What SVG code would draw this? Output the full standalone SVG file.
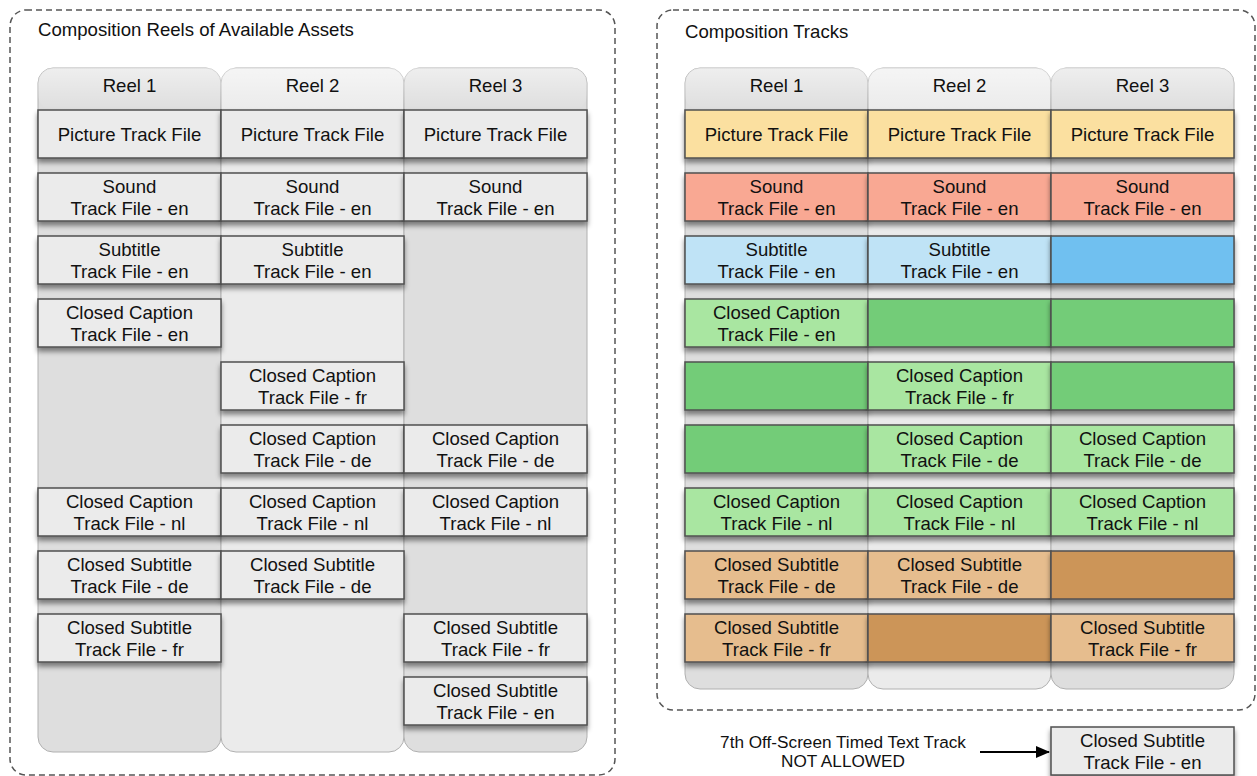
<svg xmlns="http://www.w3.org/2000/svg" width="1257" height="776" viewBox="0 0 1257 776">
<defs>
<filter id="sh" x="-10%" y="-20%" width="120%" height="160%"><feDropShadow dx="0" dy="4" stdDeviation="2.5" flood-color="#000" flood-opacity="0.45"/></filter>
<linearGradient id="hdr" x1="0" y1="0" x2="0" y2="1"><stop offset="0" stop-color="#fff" stop-opacity="0.5"/><stop offset="1" stop-color="#fff" stop-opacity="0"/></linearGradient>
<marker id="ah" markerWidth="14" markerHeight="12" refX="13" refY="6" orient="auto" markerUnits="userSpaceOnUse"><path d="M0,0 L14,6 L0,12 Z" fill="#000"/></marker>
</defs>
<style>
text{font-family:"Liberation Sans",Arial,sans-serif;font-size:18.6px;fill:#111;text-anchor:middle}
.title{text-anchor:start}
.panel{fill:#fff;stroke:#555;stroke-width:1.5;stroke-dasharray:6 4}
.colA{fill:#dedede;stroke:#b0b0b0;stroke-width:1}
.colB{fill:#ebebeb;stroke:#b0b0b0;stroke-width:1}
.hdr{fill:url(#hdr)}
.b{stroke:#505050;stroke-width:1.5;filter:url(#sh)}
.g{fill:#ebebeb}
.pic{fill:#fbe0a0}
.snd{fill:#f9a893}
.subL{fill:#bfe3f6}
.subD{fill:#6fc0f0}
.ccL{fill:#a9e6a1}
.ccD{fill:#73cc78}
.csL{fill:#e6bd8e}
.csD{fill:#cc9558}
.note{font-size:17.2px}
</style>
<g id="panel-left">
<rect class="panel" x="10" y="10" width="605" height="765" rx="16"/>
<text class="title" x="38" y="36">Composition Reels of Available Assets</text>
<rect class="colA" x="38" y="68" width="183" height="684" rx="15"/>
<rect class="colB" x="221" y="68" width="183" height="684" rx="15"/>
<rect class="colA" x="404" y="68" width="183" height="684" rx="15"/>
<rect class="hdr" x="38" y="68" width="549" height="42" rx="15"/>
<text x="129.5" y="91.5">Reel 1</text>
<text x="312.5" y="91.5">Reel 2</text>
<text x="495.5" y="91.5">Reel 3</text>
</g>
<g id="panel-right">
<rect class="panel" x="657" y="10" width="598" height="700" rx="16"/>
<text class="title" x="685" y="38">Composition Tracks</text>
<rect class="colA" x="685" y="68" width="183" height="621" rx="15"/>
<rect class="colB" x="868" y="68" width="183" height="621" rx="15"/>
<rect class="colA" x="1051" y="68" width="183" height="621" rx="15"/>
<rect class="hdr" x="685" y="68" width="549" height="42" rx="15"/>
<text x="776.5" y="91.5">Reel 1</text>
<text x="959.5" y="91.5">Reel 2</text>
<text x="1142.5" y="91.5">Reel 3</text>
</g>
<g id="left-r1-picture"><rect class="b g" x="38" y="110" width="183" height="48"/><text x="129.5" y="140.5">Picture Track File</text></g>
<g id="left-r2-picture"><rect class="b g" x="221" y="110" width="183" height="48"/><text x="312.5" y="140.5">Picture Track File</text></g>
<g id="left-r3-picture"><rect class="b g" x="404" y="110" width="183" height="48"/><text x="495.5" y="140.5">Picture Track File</text></g>
<g id="left-r1-sound"><rect class="b g" x="38" y="173" width="183" height="48"/><text x="129.5" y="192.5">Sound</text><text x="129.5" y="214.5">Track File - en</text></g>
<g id="left-r2-sound"><rect class="b g" x="221" y="173" width="183" height="48"/><text x="312.5" y="192.5">Sound</text><text x="312.5" y="214.5">Track File - en</text></g>
<g id="left-r3-sound"><rect class="b g" x="404" y="173" width="183" height="48"/><text x="495.5" y="192.5">Sound</text><text x="495.5" y="214.5">Track File - en</text></g>
<g id="left-r1-sub"><rect class="b g" x="38" y="236" width="183" height="48"/><text x="129.5" y="255.5">Subtitle</text><text x="129.5" y="277.5">Track File - en</text></g>
<g id="left-r2-sub"><rect class="b g" x="221" y="236" width="183" height="48"/><text x="312.5" y="255.5">Subtitle</text><text x="312.5" y="277.5">Track File - en</text></g>
<g id="left-r1-cc-en"><rect class="b g" x="38" y="299" width="183" height="48"/><text x="129.5" y="318.5">Closed Caption</text><text x="129.5" y="340.5">Track File - en</text></g>
<g id="left-r2-cc-fr"><rect class="b g" x="221" y="362" width="183" height="48"/><text x="312.5" y="381.5">Closed Caption</text><text x="312.5" y="403.5">Track File - fr</text></g>
<g id="left-r2-cc-de"><rect class="b g" x="221" y="425" width="183" height="48"/><text x="312.5" y="444.5">Closed Caption</text><text x="312.5" y="466.5">Track File - de</text></g>
<g id="left-r3-cc-de"><rect class="b g" x="404" y="425" width="183" height="48"/><text x="495.5" y="444.5">Closed Caption</text><text x="495.5" y="466.5">Track File - de</text></g>
<g id="left-r1-cc-nl"><rect class="b g" x="38" y="488" width="183" height="48"/><text x="129.5" y="507.5">Closed Caption</text><text x="129.5" y="529.5">Track File - nl</text></g>
<g id="left-r2-cc-nl"><rect class="b g" x="221" y="488" width="183" height="48"/><text x="312.5" y="507.5">Closed Caption</text><text x="312.5" y="529.5">Track File - nl</text></g>
<g id="left-r3-cc-nl"><rect class="b g" x="404" y="488" width="183" height="48"/><text x="495.5" y="507.5">Closed Caption</text><text x="495.5" y="529.5">Track File - nl</text></g>
<g id="left-r1-cs-de"><rect class="b g" x="38" y="551" width="183" height="48"/><text x="129.5" y="570.5">Closed Subtitle</text><text x="129.5" y="592.5">Track File - de</text></g>
<g id="left-r2-cs-de"><rect class="b g" x="221" y="551" width="183" height="48"/><text x="312.5" y="570.5">Closed Subtitle</text><text x="312.5" y="592.5">Track File - de</text></g>
<g id="left-r1-cs-fr"><rect class="b g" x="38" y="614" width="183" height="48"/><text x="129.5" y="633.5">Closed Subtitle</text><text x="129.5" y="655.5">Track File - fr</text></g>
<g id="left-r3-cs-fr"><rect class="b g" x="404" y="614" width="183" height="48"/><text x="495.5" y="633.5">Closed Subtitle</text><text x="495.5" y="655.5">Track File - fr</text></g>
<g id="left-r3-cs-en"><rect class="b g" x="404" y="677" width="183" height="48"/><text x="495.5" y="696.5">Closed Subtitle</text><text x="495.5" y="718.5">Track File - en</text></g>
<g id="right-r1-picture"><rect class="b pic" x="685" y="110" width="183" height="48"/><text x="776.5" y="140.5">Picture Track File</text></g>
<g id="right-r2-picture"><rect class="b pic" x="868" y="110" width="183" height="48"/><text x="959.5" y="140.5">Picture Track File</text></g>
<g id="right-r3-picture"><rect class="b pic" x="1051" y="110" width="183" height="48"/><text x="1142.5" y="140.5">Picture Track File</text></g>
<g id="right-r1-sound"><rect class="b snd" x="685" y="173" width="183" height="48"/><text x="776.5" y="192.5">Sound</text><text x="776.5" y="214.5">Track File - en</text></g>
<g id="right-r2-sound"><rect class="b snd" x="868" y="173" width="183" height="48"/><text x="959.5" y="192.5">Sound</text><text x="959.5" y="214.5">Track File - en</text></g>
<g id="right-r3-sound"><rect class="b snd" x="1051" y="173" width="183" height="48"/><text x="1142.5" y="192.5">Sound</text><text x="1142.5" y="214.5">Track File - en</text></g>
<g id="right-r1-sub"><rect class="b subL" x="685" y="236" width="183" height="48"/><text x="776.5" y="255.5">Subtitle</text><text x="776.5" y="277.5">Track File - en</text></g>
<g id="right-r2-sub"><rect class="b subL" x="868" y="236" width="183" height="48"/><text x="959.5" y="255.5">Subtitle</text><text x="959.5" y="277.5">Track File - en</text></g>
<g id="right-r3-sub"><rect class="b subD" x="1051" y="236" width="183" height="48"/></g>
<g id="right-r1-cc-en"><rect class="b ccL" x="685" y="299" width="183" height="48"/><text x="776.5" y="318.5">Closed Caption</text><text x="776.5" y="340.5">Track File - en</text></g>
<g id="right-r2-cc-en"><rect class="b ccD" x="868" y="299" width="183" height="48"/></g>
<g id="right-r3-cc-en"><rect class="b ccD" x="1051" y="299" width="183" height="48"/></g>
<g id="right-r1-cc-fr"><rect class="b ccD" x="685" y="362" width="183" height="48"/></g>
<g id="right-r2-cc-fr"><rect class="b ccL" x="868" y="362" width="183" height="48"/><text x="959.5" y="381.5">Closed Caption</text><text x="959.5" y="403.5">Track File - fr</text></g>
<g id="right-r3-cc-fr"><rect class="b ccD" x="1051" y="362" width="183" height="48"/></g>
<g id="right-r1-cc-de"><rect class="b ccD" x="685" y="425" width="183" height="48"/></g>
<g id="right-r2-cc-de"><rect class="b ccL" x="868" y="425" width="183" height="48"/><text x="959.5" y="444.5">Closed Caption</text><text x="959.5" y="466.5">Track File - de</text></g>
<g id="right-r3-cc-de"><rect class="b ccL" x="1051" y="425" width="183" height="48"/><text x="1142.5" y="444.5">Closed Caption</text><text x="1142.5" y="466.5">Track File - de</text></g>
<g id="right-r1-cc-nl"><rect class="b ccL" x="685" y="488" width="183" height="48"/><text x="776.5" y="507.5">Closed Caption</text><text x="776.5" y="529.5">Track File - nl</text></g>
<g id="right-r2-cc-nl"><rect class="b ccL" x="868" y="488" width="183" height="48"/><text x="959.5" y="507.5">Closed Caption</text><text x="959.5" y="529.5">Track File - nl</text></g>
<g id="right-r3-cc-nl"><rect class="b ccL" x="1051" y="488" width="183" height="48"/><text x="1142.5" y="507.5">Closed Caption</text><text x="1142.5" y="529.5">Track File - nl</text></g>
<g id="right-r1-cs-de"><rect class="b csL" x="685" y="551" width="183" height="48"/><text x="776.5" y="570.5">Closed Subtitle</text><text x="776.5" y="592.5">Track File - de</text></g>
<g id="right-r2-cs-de"><rect class="b csL" x="868" y="551" width="183" height="48"/><text x="959.5" y="570.5">Closed Subtitle</text><text x="959.5" y="592.5">Track File - de</text></g>
<g id="right-r3-cs-de"><rect class="b csD" x="1051" y="551" width="183" height="48"/></g>
<g id="right-r1-cs-fr"><rect class="b csL" x="685" y="614" width="183" height="48"/><text x="776.5" y="633.5">Closed Subtitle</text><text x="776.5" y="655.5">Track File - fr</text></g>
<g id="right-r2-cs-fr"><rect class="b csD" x="868" y="614" width="183" height="48"/></g>
<g id="right-r3-cs-fr"><rect class="b csL" x="1051" y="614" width="183" height="48"/><text x="1142.5" y="633.5">Closed Subtitle</text><text x="1142.5" y="655.5">Track File - fr</text></g>
<g id="note"><text class="note" x="843" y="747.5">7th Off-Screen Timed Text Track</text><text class="note" x="843" y="766.5">NOT ALLOWED</text></g>
<g id="offscreen-cs-en"><rect class="b g" x="1051" y="727" width="183" height="48"/><text x="1142.5" y="746.5">Closed Subtitle</text><text x="1142.5" y="768.5">Track File - en</text></g>
<g id="connectors"><line x1="980" y1="752" x2="1049" y2="752" stroke="#000" stroke-width="2" marker-end="url(#ah)"/></g>
</svg>
